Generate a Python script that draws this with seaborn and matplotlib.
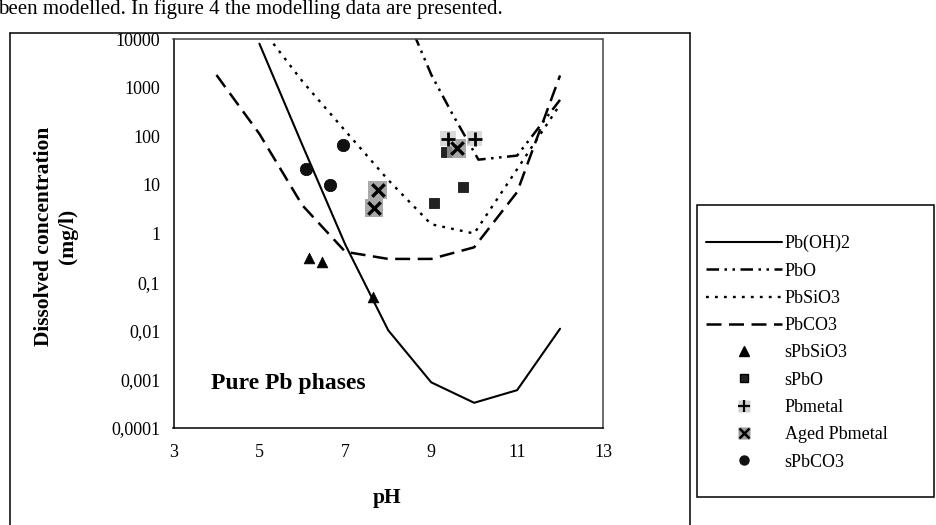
import numpy as np
import pandas as pd
import matplotlib
matplotlib.use("Agg")
import matplotlib.pyplot as plt
import seaborn as sns
from matplotlib.lines import Line2D
from matplotlib.patches import Rectangle
from matplotlib.legend_handler import HandlerTuple
from matplotlib.ticker import FixedLocator, FixedFormatter, NullLocator

# ---------------- data ----------------
ph_pboh2 = [5.0, 6.0, 7.0, 8.0, 9.0, 10.0, 11.0, 12.0]
c_pboh2 = [8000, 66, 0.59, 0.0102, 0.00087, 0.00033, 0.0006, 0.011]

ph_pbo = [8.6, 9.0, 9.5, 10.1, 11.0, 12.0]
c_pbo = [12600, 1860, 280, 33, 40, 560]

ph_pbsio3 = [5.2, 6.0, 7.0, 8.0, 9.0, 10.0, 11.0, 12.0]
c_pbsio3 = [11200, 1350, 129, 12.6, 1.55, 1.0, 21, 450]

ph_pbco3 = [4.0, 5.0, 6.0, 7.0, 8.0, 9.0, 10.0, 11.0, 12.0]
c_pbco3 = [1820, 112, 3.8, 0.42, 0.30, 0.30, 0.52, 7.1, 1780]

ph_spbsio3 = [6.16, 6.45, 7.65]
c_spbsio3 = [0.31, 0.26, 0.049]

ph_spbo = [9.07, 9.74, 9.34]
c_spbo = [4.3, 9.0, 48]

ph_pbmetal = [9.39, 10.01]
c_pbmetal = [89, 89]

ph_aged = [7.75, 7.66, 9.59]
c_aged = [7.8, 3.3, 56]

ph_spbco3 = [6.95, 6.08, 6.65]
c_spbco3 = [66, 21, 10]

x_ticks = [3, 5, 7, 9, 11, 13]
y_ticks = [1e-4, 1e-3, 1e-2, 1e-1, 1, 10, 100, 1000, 10000]
y_tick_labels = ["0,0001", "0,001", "0,01", "0,1", "1", "10", "100", "1000", "10000"]

line_labels = ["Pb(OH)2", "PbO", "PbSiO3", "PbCO3"]
point_labels = ["sPbSiO3", "sPbO", "Pbmetal", "Aged Pbmetal", "sPbCO3"]

# ---------------- style ----------------
sns.set_theme(style="white")
plt.rcParams['font.family'] = ['Liberation Serif', 'DejaVu Serif']

W, H = 936, 525
fig = plt.figure(figsize=(W / 100, H / 100), dpi=100)
ax = fig.add_axes([173.5 / W, 1 - 428 / H, (603 - 173.5) / W, (428 - 39) / H])

styles = {
    "Pb(OH)2": dict(linestyle="-", linewidth=1.5),
    "PbO": dict(linestyle=(0, (5, 2.2, 1, 2.2, 1, 2.2)), linewidth=1.8),
    "PbSiO3": dict(linestyle=(0, (1.2, 2.6)), linewidth=1.7),
    "PbCO3": dict(linestyle=(0, (6, 3)), linewidth=1.8),
}
series = {
    "Pb(OH)2": (ph_pboh2, c_pboh2),
    "PbO": (ph_pbo, c_pbo),
    "PbSiO3": (ph_pbsio3, c_pbsio3),
    "PbCO3": (ph_pbco3, c_pbco3),
}
for name in line_labels:
    xs, ys = series[name]
    df = pd.DataFrame({"pH": xs, "conc": ys})
    sns.lineplot(data=df, x="pH", y="conc", ax=ax, color="black",
                 errorbar=None, sort=False, legend=False, **styles[name])

# points
sns.scatterplot(x=ph_spbsio3, y=c_spbsio3, ax=ax, marker="^", s=60,
                color="black", edgecolor="black", linewidth=0.5, legend=False, zorder=5)
sns.scatterplot(x=ph_spbo, y=c_spbo, ax=ax, marker="s", s=60,
                color="#222222", edgecolor="black", linewidth=0.5, legend=False, zorder=5)
sns.scatterplot(x=ph_aged, y=c_aged, ax=ax, marker="s", s=170,
                color="#9a9a9a", edgecolor="none", linewidth=0, alpha=0.85,
                legend=False, zorder=5)
sns.scatterplot(x=ph_aged, y=c_aged, ax=ax, marker="x", s=80,
                color="black", edgecolor="black", linewidth=2.4, legend=False, zorder=6)
sns.scatterplot(x=ph_pbmetal, y=c_pbmetal, ax=ax, marker="s", s=120,
                color="#d0d0d0", edgecolor="none", linewidth=0, alpha=0.8,
                legend=False, zorder=5)
sns.scatterplot(x=ph_pbmetal, y=c_pbmetal, ax=ax, marker="+", s=110,
                color="black", edgecolor="black", linewidth=2.0, legend=False, zorder=6)
sns.scatterplot(x=ph_spbco3, y=c_spbco3, ax=ax, marker="o", s=80,
                color="#111111", edgecolor="black", linewidth=0.5, legend=False, zorder=5)

ax.set_yscale("log")
ax.set_xlim(3, 13)
ax.set_ylim(1e-4, 1e4)
ax.xaxis.set_major_locator(FixedLocator(x_ticks))
ax.xaxis.set_minor_locator(NullLocator())
ax.yaxis.set_major_locator(FixedLocator(y_ticks))
ax.yaxis.set_major_formatter(FixedFormatter(y_tick_labels))
ax.yaxis.set_minor_locator(NullLocator())
ax.tick_params(axis="both", which="major", direction="inout", length=7, width=1,
               color="black", labelsize=13, labelcolor="black")
ax.tick_params(axis="x", pad=8)
ax.tick_params(axis="y", pad=6)
ax.grid(False)

for side in ["left", "bottom"]:
    ax.spines[side].set_color("black")
    ax.spines[side].set_linewidth(1.1)
for side in ["top", "right"]:
    ax.spines[side].set_color("#444444")
    ax.spines[side].set_linewidth(1.1)
    ax.spines[side].set_linestyle((0, (1, 1)))

ax.set_xlabel("pH", fontsize=15.5, fontweight="bold", color="black")
ax.xaxis.set_label_coords(0.497, -0.155)
ax.set_ylabel("")
fig.text(56 / W, 1 - 236 / H, "Dissolved concentration\n(mg/l)", rotation=90,
         ha="center", va="center", multialignment="center",
         fontsize=15.5, fontweight="bold", color="black", linespacing=1.25)

ax.text(3.88, 10 ** -3.08, "Pure Pb phases", fontsize=17, fontweight="bold",
        ha="left", va="center", color="black")

# page fragment and frame lines
fig.text(-2 / W, 1 - 14 / H, "been modelled. In figure 4 the modelling data are presented.",
         fontsize=15, ha="left", va="baseline", color="black")
fig.add_artist(Line2D([10 / W, 10 / W], [0, 1 - 33 / H], transform=fig.transFigure,
                      color="black", lw=1.1))
fig.add_artist(Line2D([10 / W, 690 / W], [1 - 33 / H, 1 - 33 / H], transform=fig.transFigure,
                      color="black", lw=1.1))
fig.add_artist(Line2D([690 / W, 690 / W], [0, 1 - 33 / H], transform=fig.transFigure,
                      color="black", lw=1.1))

# legend box
fig.add_artist(Rectangle((697 / W, 1 - 497 / H), (934 - 697) / W, (497 - 205) / H,
                         transform=fig.transFigure, facecolor="white",
                         edgecolor="black", lw=1.1))

handles = [
    Line2D([], [], color="black", **styles["Pb(OH)2"]),
    Line2D([], [], color="black", **styles["PbO"]),
    Line2D([], [], color="black", **styles["PbSiO3"]),
    Line2D([], [], color="black", **styles["PbCO3"]),
    Line2D([], [], color="black", marker="^", markersize=7, linestyle="none"),
    Line2D([], [], color="#222222", marker="s", markersize=6, linestyle="none",
           markeredgecolor="black"),
    (Line2D([], [], color="#d0d0d0", marker="s", markersize=9, linestyle="none",
            markeredgecolor="none"),
     Line2D([], [], color="black", marker="+", markersize=8, mew=1.6, linestyle="none")),
    (Line2D([], [], color="#9a9a9a", marker="s", markersize=9, linestyle="none",
            markeredgecolor="none"),
     Line2D([], [], color="black", marker="x", markersize=7, mew=1.8, linestyle="none")),
    Line2D([], [], color="#111111", marker="o", markersize=6.5, linestyle="none"),
]
labels = line_labels + point_labels
leg = fig.legend(handles, labels, loc="upper left",
                 bbox_to_anchor=(706 / W, 1 - 235 / H), frameon=False,
                 fontsize=13, handlelength=4.2, handletextpad=0.15,
                 labelspacing=0.57, borderpad=0, borderaxespad=0,
                 handler_map={tuple: HandlerTuple(ndivide=1, pad=0)})
for t in leg.get_texts():
    t.set_color("black")

fig.savefig("out.png", dpi=100)
